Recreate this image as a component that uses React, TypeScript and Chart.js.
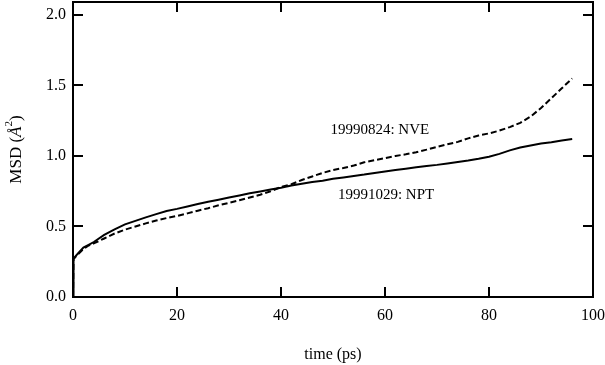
import { useEffect, useRef } from "react";
import { Chart, registerables } from "chart.js";
Chart.register(...registerables);

const FONT = "'Liberation Serif', 'DejaVu Serif', serif";

const TIME = [0, 0.1, 0.5, 1, 2, 3, 4, 6, 8, 10, 12, 14, 16, 18, 20, 22, 24, 26, 28, 30, 32, 34, 36, 38, 40, 42, 44, 46, 48, 50, 52, 54, 56, 58, 60, 62, 64, 66, 68, 70, 72, 74, 76, 78, 80, 82, 84, 86, 88, 90, 92, 94, 96];
const NPT = [0, 0.27, 0.29, 0.31, 0.35, 0.37, 0.39, 0.44, 0.48, 0.515, 0.54, 0.565, 0.588, 0.61, 0.625, 0.642, 0.66, 0.675, 0.69, 0.705, 0.72, 0.735, 0.748, 0.762, 0.775, 0.79, 0.803, 0.815, 0.825, 0.838, 0.848, 0.858, 0.868, 0.88, 0.89, 0.90, 0.91, 0.92, 0.929, 0.937, 0.947, 0.958, 0.968, 0.98, 0.995, 1.015, 1.04, 1.06, 1.075, 1.088, 1.098, 1.11, 1.12];
const NVE = [0, 0.27, 0.285, 0.305, 0.34, 0.365, 0.38, 0.415, 0.45, 0.478, 0.5, 0.522, 0.542, 0.56, 0.575, 0.593, 0.612, 0.63, 0.65, 0.668, 0.686, 0.705, 0.725, 0.75, 0.78, 0.80, 0.83, 0.855, 0.88, 0.9, 0.915, 0.932, 0.955, 0.97, 0.985, 1.0, 1.012, 1.027, 1.045, 1.065, 1.083, 1.1, 1.125, 1.145, 1.16, 1.18, 1.205, 1.235, 1.28, 1.34, 1.41, 1.48, 1.55];

const X_TICKS = [0, 20, 40, 60, 80, 100];
const Y_TICKS = [0, 0.5, 1.0, 1.5, 2.0];

const LABELS = ["19990824: NVE", "19991029: NPT"];
const LABEL_X = [59, 60.2];
const LABEL_Y = [1.184, 0.723];

const framePlugin = {
  id: "frame",
  afterDraw(chart: any) {
    const { ctx, chartArea: a, scales } = chart;
    const xs = scales.x, ys = scales.y;
    ctx.save();
    ctx.strokeStyle = "#000";
    ctx.lineWidth = 2;
    ctx.strokeRect(a.left, a.top, a.right - a.left, a.bottom - a.top);
    ctx.beginPath();
    for (const v of Y_TICKS) {
      const y = Math.round(ys.getPixelForValue(v));
      ctx.moveTo(a.left, y); ctx.lineTo(a.left + 10, y);
      ctx.moveTo(a.right, y); ctx.lineTo(a.right - 10, y);
    }
    for (const v of X_TICKS) {
      const x = Math.round(xs.getPixelForValue(v));
      ctx.moveTo(x, a.bottom); ctx.lineTo(x, a.bottom - 10);
      ctx.moveTo(x, a.top); ctx.lineTo(x, a.top + 10);
    }
    ctx.stroke();

    ctx.fillStyle = "#000";
    ctx.textAlign = "center";
    ctx.textBaseline = "middle";
    ctx.font = `15px ${FONT}`;
    LABELS.forEach((t, i) => {
      ctx.fillText(t, xs.getPixelForValue(LABEL_X[i]), ys.getPixelForValue(LABEL_Y[i]));
    });

    // x title
    ctx.font = `16px ${FONT}`;
    ctx.fillText("time (ps)", (a.left + a.right) / 2, 355);

    // y title
    ctx.translate(17, (a.top + a.bottom) / 2);
    ctx.rotate(-Math.PI / 2);
    ctx.textAlign = "left";
    const parts = [
      { t: "MSD (", f: `17px ${FONT}`, dy: 0 },
      { t: "Å", f: `italic 17px ${FONT}`, dy: 0 },
      { t: "2", f: `11px ${FONT}`, dy: -8 },
      { t: ")", f: `17px ${FONT}`, dy: 0 },
    ];
    let w = 0;
    for (const p of parts) { ctx.font = p.f; w += ctx.measureText(p.t).width; }
    let x = -w / 2;
    for (const p of parts) {
      ctx.font = p.f;
      ctx.fillText(p.t, x, p.dy);
      x += ctx.measureText(p.t).width;
    }
    ctx.restore();
  },
};

export default function App() {
  const ref = useRef<HTMLCanvasElement>(null);
  useEffect(() => {
    document.body.style.margin = "0";
    const chart = new Chart(ref.current!, {
      type: "line",
      data: {
        datasets: [
          {
            label: "19991029: NPT",
            data: TIME.map((t, i) => ({ x: t, y: NPT[i] })),
            borderColor: "#000",
            borderWidth: 2,
            pointRadius: 0,
            tension: 0,
            fill: false,
          },
          {
            label: "19990824: NVE",
            data: TIME.map((t, i) => ({ x: t, y: NVE[i] })),
            borderColor: "#000",
            borderWidth: 2,
            borderDash: [6, 3],
            pointRadius: 0,
            tension: 0,
            fill: false,
          },
        ],
      },
      options: {
        responsive: false,
        animation: false,
        devicePixelRatio: 1,
        layout: { padding: { top: 2, right: 12, left: 0, bottom: 0 } },
        plugins: { legend: { display: false }, tooltip: { enabled: false } },
        scales: {
          x: {
            type: "linear",
            min: 0,
            max: 100,
            grid: { display: false, drawTicks: false },
            border: { display: false },
            afterBuildTicks: (s: any) => { s.ticks = X_TICKS.map((v) => ({ value: v })); },
            ticks: { padding: 9, maxRotation: 0, color: "#000", font: { family: FONT, size: 16 } },
            afterFit: (s: any) => { s.height = 68; s.paddingLeft = 0; s.paddingRight = 0; },
          },
          y: {
            type: "linear",
            min: 0,
            max: 2.092,
            grid: { display: false, drawTicks: false },
            border: { display: false },
            afterBuildTicks: (s: any) => { s.ticks = Y_TICKS.map((v) => ({ value: v })); },
            ticks: {
              padding: 7,
              color: "#000",
              font: { family: FONT, size: 16 },
              callback: (v: any) => Number(v).toFixed(1),
            },
            afterFit: (s: any) => { s.width = 73; s.paddingTop = 0; s.paddingBottom = 0; },
          },
        },
      },
      plugins: [framePlugin],
    });
    return () => chart.destroy();
  }, []);
  return (
    <div style={{ width: 605, height: 365 }}>
      <canvas ref={ref} width={605} height={365} style={{ display: "block" }} />
    </div>
  );
}
